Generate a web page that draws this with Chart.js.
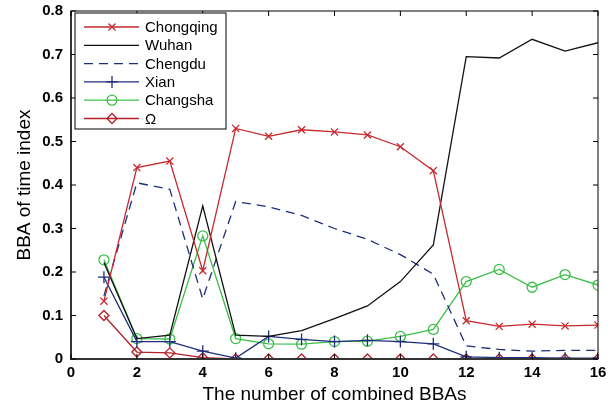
<!DOCTYPE html>
<html>
<head>
<meta charset="utf-8">
<script src="https://cdn.jsdelivr.net/npm/chart.js@4"></script>
<style>
  html, body { margin: 0; padding: 0; background: #fff; }
  #wrap { width: 616px; height: 406px; }
</style>
</head>
<body>
<div id="wrap"><canvas id="c"></canvas></div>
<script>
// values
const xs = [1, 2, 3, 4, 5, 6, 7, 8, 9, 10, 11, 12, 13, 14, 15, 16];
const chongqing = [0.133, 0.440, 0.455, 0.203, 0.530, 0.512, 0.527, 0.522, 0.515, 0.488, 0.433, 0.088, 0.075, 0.080, 0.076, 0.078];
const wuhan     = [0.222, 0.047, 0.055, 0.352, 0.055, 0.052, 0.065, 0.093, 0.122, 0.178, 0.262, 0.695, 0.692, 0.735, 0.708, 0.727];
const chengdu   = [0.145, 0.405, 0.390, 0.138, 0.362, 0.350, 0.330, 0.300, 0.275, 0.240, 0.195, 0.030, 0.022, 0.018, 0.020, 0.020];
const xian      = [0.188, 0.040, 0.040, 0.018, 0.002, 0.052, 0.045, 0.040, 0.043, 0.040, 0.035, 0.005, 0.003, 0.003, 0.002, 0.002];
const changsha  = [0.228, 0.047, 0.046, 0.283, 0.047, 0.035, 0.034, 0.040, 0.041, 0.052, 0.068, 0.178, 0.206, 0.165, 0.194, 0.170];
const omega     = [0.100, 0.016, 0.014, 0.003, 0.000, 0.000, 0.000, 0.000, 0.000, 0.000, 0.000, 0.000, 0.000, 0.000, 0.000, 0.000];
const xTicks = [0, 2, 4, 6, 8, 10, 12, 14, 16];
const yTicks = [0, 0.1, 0.2, 0.3, 0.4, 0.5, 0.6, 0.7, 0.8];

const RED = '#c62a2f', BLACK = '#111111', BLUE = '#1f2d7a', GREEN = '#3cbf4a', DRED = '#b3202a';

function pts(arr) { return arr.map((v, i) => ({ x: xs[i], y: v })); }

const series = [
  { label: 'Chongqing', data: pts(chongqing), borderColor: RED, pointStyle: 'crossRot', pointRadius: 5, dash: [] },
  { label: 'Wuhan', data: pts(wuhan), borderColor: BLACK, pointStyle: false, pointRadius: 0, dash: [] },
  { label: 'Chengdu', data: pts(chengdu), borderColor: BLUE, pointStyle: false, pointRadius: 0, dash: [9, 6] },
  { label: 'Xian', data: pts(xian), borderColor: BLUE, pointStyle: 'cross', pointRadius: 6, dash: [] },
  { label: 'Changsha', data: pts(changsha), borderColor: GREEN, pointStyle: 'circle', pointRadius: 5, dash: [] },
  { label: 'Ω', data: pts(omega), borderColor: DRED, pointStyle: 'rectRot', pointRadius: 5, dash: [] }
];

// box, inward ticks and the legend, matlab style
const frame = {
  id: 'frame',
  afterDatasetsDraw(chart) {
    const { ctx, chartArea: a, scales } = chart;
    ctx.save();
    ctx.strokeStyle = '#000';
    ctx.lineWidth = 1;
    ctx.strokeRect(a.left, a.top, a.right - a.left, a.bottom - a.top);
    ctx.strokeStyle = '#333';
    ctx.lineWidth = 2;
    ctx.beginPath();
    ctx.moveTo(a.left, a.top); ctx.lineTo(a.left, a.bottom); ctx.lineTo(a.right, a.bottom);
    ctx.stroke();
    ctx.strokeStyle = '#000';
    ctx.lineWidth = 1;
    xTicks.forEach(t => {
      const px = scales.x.getPixelForValue(t);
      ctx.beginPath();
      ctx.moveTo(px, a.bottom); ctx.lineTo(px, a.bottom - 5);
      ctx.moveTo(px, a.top); ctx.lineTo(px, a.top + 5);
      ctx.stroke();
    });
    yTicks.forEach(t => {
      const py = scales.y.getPixelForValue(t);
      ctx.beginPath();
      ctx.moveTo(a.left, py); ctx.lineTo(a.left + 5, py);
      ctx.moveTo(a.right, py); ctx.lineTo(a.right - 5, py);
      ctx.stroke();
    });

    // legend
    const lx = a.left + 4, ly = a.top + 2, lw = 151, lh = 116;
    ctx.fillStyle = '#fff';
    ctx.fillRect(lx, ly, lw, lh);
    ctx.strokeStyle = '#000';
    ctx.lineWidth = 1;
    ctx.strokeRect(lx, ly, lw, lh);
    ctx.font = '15px Arial, "Liberation Sans", sans-serif';
    ctx.textBaseline = 'middle';
    chart.data.datasets.forEach((ds, i) => {
      const y = ly + 14 + i * 18.3;
      ctx.strokeStyle = ds.borderColor;
      ctx.lineWidth = 1.3;
      ctx.setLineDash(ds.borderDash || []);
      ctx.beginPath();
      ctx.moveTo(lx + 9, y); ctx.lineTo(lx + 64, y);
      ctx.stroke();
      ctx.setLineDash([]);
      if (ds.pointStyle) {
        ctx.fillStyle = 'rgba(0,0,0,0)';
        Chart.helpers.drawPoint(ctx, { pointStyle: ds.pointStyle, radius: ds.pointRadius, rotation: 0, borderWidth: 1.3 }, lx + 37, y);
      }
      ctx.fillStyle = '#000';
      ctx.fillText(ds.label, lx + 70, y + 1);
    });
    ctx.restore();
  }
};

new Chart(document.getElementById('c'), {
  type: 'line',
  data: {
    datasets: series.map(s => ({
      label: s.label,
      data: s.data,
      borderColor: s.borderColor,
      backgroundColor: 'rgba(0,0,0,0)',
      borderWidth: 1.3,
      borderDash: s.dash,
      pointStyle: s.pointStyle,
      pointRadius: s.pointRadius,
      pointBorderColor: s.borderColor,
      pointBackgroundColor: 'rgba(0,0,0,0)',
      pointBorderWidth: 1.3,
      tension: 0
    }))
  },
  options: {
    responsive: true,
    maintainAspectRatio: false,
    animation: false,
    layout: { padding: { top: 11, right: 18, left: 0, bottom: 0 } },
    plugins: { legend: { display: false }, tooltip: { enabled: false } },
    scales: {
      x: {
        type: 'linear', min: 0, max: 16,
        afterFit: s => { s.height = 47; s.paddingLeft = 0; s.paddingRight = 0; },
        afterBuildTicks: s => { s.ticks = xTicks.map(v => ({ value: v })); },
        grid: { display: false, drawTicks: false },
        border: { display: false },
        ticks: { padding: 5, color: '#000', font: { family: 'Arial', size: 15, weight: 'bold' } },
        title: { display: true, text: 'The number of combined BBAs', color: '#000', padding: 0, font: { family: 'Arial', size: 19 } }
      },
      y: {
        min: 0, max: 0.8,
        afterFit: s => { s.width = 71; s.paddingTop = 0; s.paddingBottom = 0; },
        afterBuildTicks: s => { s.ticks = yTicks.map(v => ({ value: v })); },
        grid: { display: false, drawTicks: false },
        border: { display: false },
        ticks: { padding: 8, color: '#000', callback: v => String(+v.toFixed(1)), font: { family: 'Arial', size: 15, weight: 'bold' } },
        title: { display: true, text: 'BBA of time index', color: '#000', padding: { top: 13, bottom: 0 }, font: { family: 'Arial', size: 19 } }
      }
    }
  },
  plugins: [frame]
});
</script>
</body>
</html>
